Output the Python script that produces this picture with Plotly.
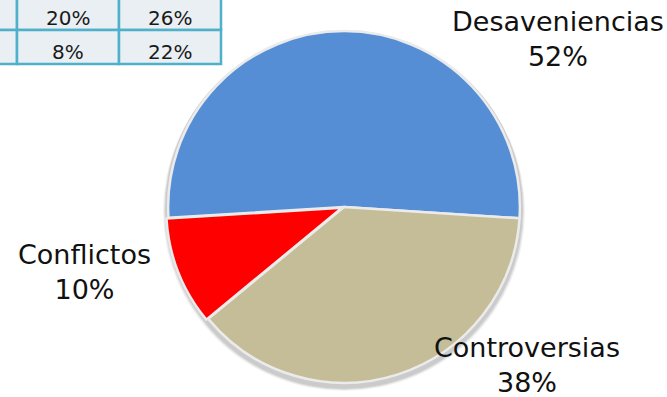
import plotly.graph_objects as go

# Pie data
categories = ["Desaveniencias", "Controversias", "Conflictos"]
shares = [52, 38, 10]
slice_colors = ["#558ED5", "#C4BD97", "#FF0000"]

# Partial summary table shown in the corner
table_rows = [["20%", "26%"], ["8%", "22%"]]

W, H = 667, 397
FONT = "DejaVu Sans"


def px(x):
    return x / W


def py(y):
    return 1 - y / H


fig = go.Figure()

# Pie geometry (pixels)
cx, cy, r = 344, 207, 178

fig.add_trace(go.Pie(
    labels=categories,
    values=shares,
    sort=False,
    direction="clockwise",
    rotation=-93.5,
    marker=dict(colors=slice_colors, line=dict(color="#EBEBEB", width=2.5)),
    textinfo="none",
    hoverinfo="label+percent",
    pull=[0, 0, 0.012],
    domain=dict(x=[px(cx - r), px(cx + r)], y=[py(cy + r), py(cy - r)]),
    showlegend=False,
))

shapes = []
# Soft drop shadow under the pie
for k, op in [(4, 0.05), (3, 0.07), (2, 0.09)]:
    shapes.append(dict(
        type="circle", xref="paper", yref="paper", layer="below",
        x0=px(cx - r - k + 1), x1=px(cx + r + k - 1),
        y0=py(cy + r + k + 2), y1=py(cy - r + k - 1),
        fillcolor=f"rgba(0,0,0,{op})", line=dict(width=0),
    ))

# Table cells
col_edges = [-85, 17, 119, 221]
row_edges = [-4, 30, 64]
border = "#4FB0C9"
for ri in range(len(row_edges) - 1):
    for ci in range(len(col_edges) - 1):
        shapes.append(dict(
            type="rect", xref="paper", yref="paper",
            x0=px(col_edges[ci]), x1=px(col_edges[ci + 1]),
            y0=py(row_edges[ri + 1]), y1=py(row_edges[ri]),
            fillcolor="#E9EFF3", line=dict(color=border, width=2.5),
        ))

annotations = []
for ri, row in enumerate(table_rows):
    for ci, val in enumerate(row):
        annotations.append(dict(
            x=px((col_edges[ci + 1] + col_edges[ci + 2]) / 2),
            y=py(row_edges[ri + 1] - 12),
            xref="paper", yref="paper", text=val, showarrow=False,
            xanchor="center", yanchor="middle",
            font=dict(family=FONT, size=20, color="#1A1A1A"),
        ))

# Slice labels
label_pos = {
    "Desaveniencias": (558, 39),
    "Controversias": (527, 365),
    "Conflictos": (84, 272),
}
for name, val in zip(categories, shares):
    x, y = label_pos[name]
    annotations.append(dict(
        x=px(x), y=py(y), xref="paper", yref="paper",
        text=f"{name}<br>{val}%", showarrow=False,
        xanchor="center", yanchor="middle", align="center",
        font=dict(family=FONT, size=27, color="#111111"),
    ))

fig.update_layout(
    width=W, height=H,
    margin=dict(l=0, r=0, t=0, b=0),
    paper_bgcolor="white", plot_bgcolor="white",
    shapes=shapes, annotations=annotations,
    showlegend=False,
)

fig.write_html("out.html")
